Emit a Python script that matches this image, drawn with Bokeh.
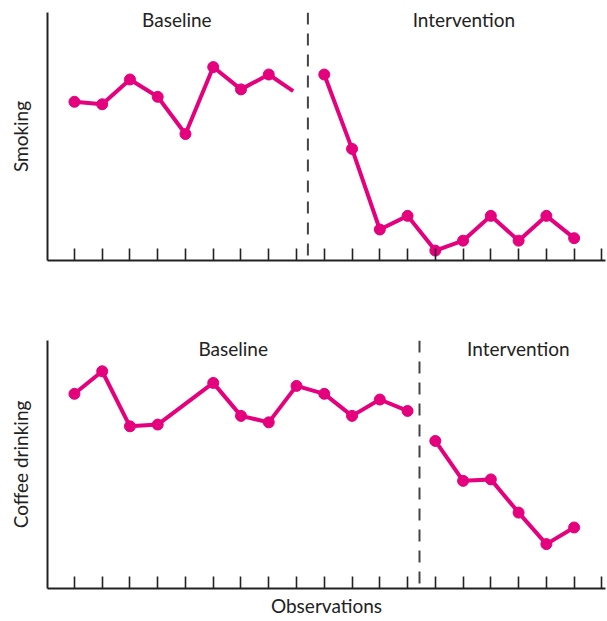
from bokeh.plotting import figure
from bokeh.layouts import column
from bokeh.models import Range1d, FixedTicker, Span, Label
from bokeh.embed import file_html
from bokeh.resources import INLINE

# ---- data ----
observations = list(range(1, 21))

smoke_base_x = [1, 2, 3, 4, 5, 6, 7, 8]
smoke_base_y = [6.4, 6.3, 7.3, 6.6, 5.1, 7.8, 6.9, 7.5]
smoke_tail_x = [8, 8.88]
smoke_tail_y = [7.5, 6.83]
smoke_int_x = [10, 11, 12, 13, 14, 15, 16, 17, 18, 19]
smoke_int_y = [7.5, 4.5, 1.25, 1.8, 0.4, 0.8, 1.8, 0.8, 1.8, 0.9]
smoke_phase_change = 9.41

coffee_base_x = [1, 2, 3, 4, 6, 7, 8, 9, 10, 11, 12, 13]
coffee_base_y = [7.85, 8.76, 6.54, 6.61, 8.29, 6.96, 6.70, 8.17, 7.85, 6.96, 7.62, 7.16]
coffee_int_x = [14, 15, 16, 17, 18, 19]
coffee_int_y = [5.95, 4.34, 4.40, 3.06, 1.79, 2.46]
coffee_phase_change = 13.43

PINK = "#E5007D"
INK = "#222222"
FONT = "Lato"


def make_panel(height, top, bottom, ylabel, xlabel=None):
    p = figure(width=607, height=height, output_backend="svg", toolbar_location=None,
               x_range=Range1d(0.03, 20.13), y_range=Range1d(0, 10),
               min_border_left=47, min_border_right=2, min_border_top=top,
               min_border_bottom=bottom)
    p.outline_line_color = None
    p.xgrid.visible = False
    p.ygrid.visible = False
    for ax in (p.xaxis, p.yaxis):
        ax.axis_line_width = 2
        ax.axis_line_color = INK
        ax.major_label_text_color = None
        ax.major_label_text_font_size = "1px"
        ax.major_label_standoff = 0
        ax.minor_tick_line_color = None
        ax.axis_label_text_font = FONT
        ax.axis_label_text_font_style = "normal"
        ax.axis_label_text_font_size = "19px"
        ax.axis_label_text_color = INK
    p.xaxis.ticker = FixedTicker(ticks=observations)
    p.xaxis.major_tick_in = 12
    p.xaxis.major_tick_out = 0
    p.xaxis.major_tick_line_width = 1.6
    p.xaxis.major_tick_line_color = INK
    p.yaxis.ticker = FixedTicker(ticks=[])
    p.yaxis.major_tick_in = 0
    p.yaxis.major_tick_out = 0
    p.yaxis.axis_label = ylabel
    p.yaxis.axis_label_standoff = 16
    if xlabel:
        p.xaxis.axis_label = xlabel
        p.xaxis.axis_label_standoff = 5
        p.xaxis.axis_label_text_line_height = 1.0
    return p


def phase_label(p, text, x, y):
    p.add_layout(Label(x=x, y=y, text=text, text_align="center",
                       text_baseline="alphabetic", text_font=FONT,
                       text_font_size="19px", text_color=INK))


p1 = make_panel(308, 12, 48, "Smoking")
p1.add_layout(Span(location=smoke_phase_change, dimension="height",
                   line_color="#444444", line_width=2, line_dash="12 9"))
p1.line(smoke_base_x, smoke_base_y, line_color=PINK, line_width=4, line_join="round")
p1.line(smoke_tail_x, smoke_tail_y, line_color=PINK, line_width=4)
p1.scatter(smoke_base_x, smoke_base_y, size=11, color=PINK)
p1.line(smoke_int_x, smoke_int_y, line_color=PINK, line_width=4, line_join="round")
p1.scatter(smoke_int_x, smoke_int_y, size=11, color=PINK)
phase_label(p1, "Baseline", 4.69, 9.73)
phase_label(p1, "Intervention", 15.03, 9.73)

p2 = make_panel(313, 32, 33, "Coffee drinking", "Observations")
p2.add_layout(Span(location=coffee_phase_change, dimension="height",
                   line_color="#444444", line_width=2, line_dash="12 9"))
p2.line(coffee_base_x, coffee_base_y, line_color=PINK, line_width=4, line_join="round")
p2.scatter(coffee_base_x, coffee_base_y, size=11, color=PINK)
p2.line(coffee_int_x, coffee_int_y, line_color=PINK, line_width=4, line_join="round")
p2.scatter(coffee_int_x, coffee_int_y, size=11, color=PINK)
phase_label(p2, "Baseline", 6.72, 9.67)
phase_label(p2, "Intervention", 16.99, 9.67)

layout = column(p1, p2, spacing=0)
open("out.html", "w").write(file_html(layout, INLINE))
